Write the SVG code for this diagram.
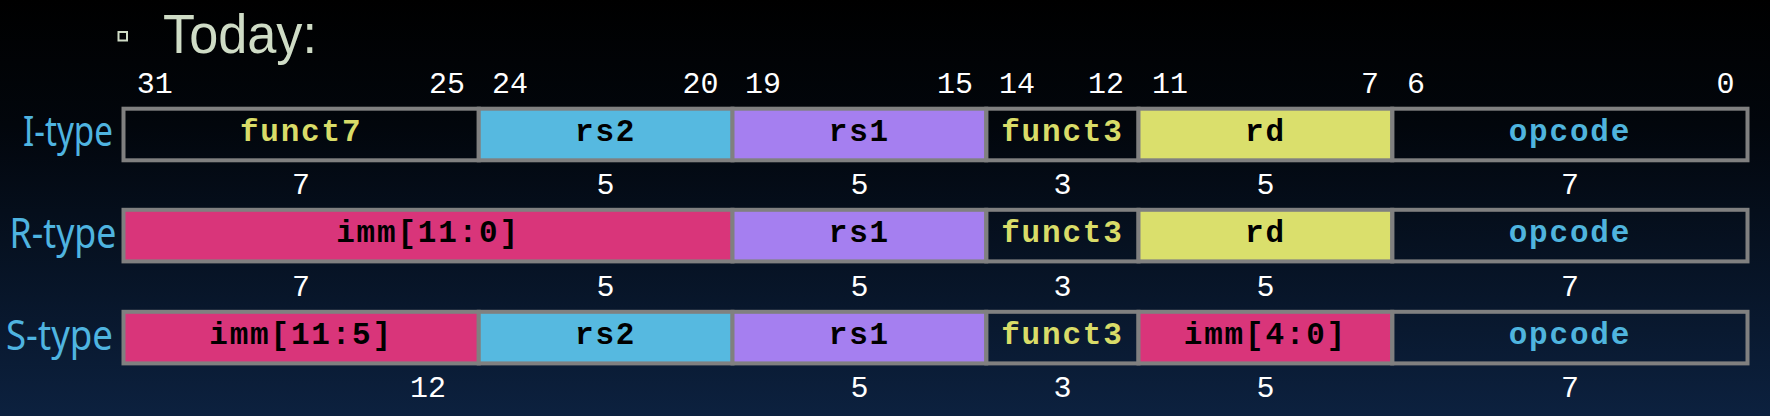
<svg xmlns="http://www.w3.org/2000/svg" width="1770" height="416" viewBox="0 0 1770 416">
<defs>
<linearGradient id="bg" x1="0" y1="0" x2="0" y2="1">
<stop offset="0" stop-color="#000000"/>
<stop offset="0.3" stop-color="#02060c"/>
<stop offset="1" stop-color="#0c213f"/>
</linearGradient>
<style>
.f{stroke:#808080;stroke-width:4}
.dk{fill:none}
.mg{fill:#d9357a}
.bl{fill:#56b9e0}
.pu{fill:#a57ff0}
.ye{fill:#dadf6c}
.lb{font-family:"Courier New","Nimbus Mono PS","FreeMono","Liberation Mono",monospace;font-weight:bold;font-size:31px;letter-spacing:1.8px;text-anchor:middle}
.tk{fill:#000}
.ty{fill:#d9dc68}
.tb{fill:#4fb4de}
.num{font-family:"Liberation Mono","DejaVu Sans Mono",monospace;font-size:30px;fill:#ffffff}
.c{text-anchor:middle}
.e{text-anchor:end}
.rl{font-family:"Noto Sans","DejaVu Sans",sans-serif;font-size:41px;fill:#4fb4e0}
</style>
</defs>
<rect width="1770" height="416" fill="url(#bg)"/>
<g id="title">
<rect x="118.5" y="32" width="8.5" height="8.5" fill="none" stroke="#cfdcc6" stroke-width="2"/>
<text x="163" y="52.7" font-family="Liberation Sans, Arial, sans-serif" font-size="55" fill="#cfdcc6" textLength="154" lengthAdjust="spacingAndGlyphs">Today:</text>
</g>
<g id="bit-positions" class="num">
<text x="136.7" y="92.5">31</text>
<text x="465" y="92.5" class="e">25</text>
<text x="492" y="92.5">24</text>
<text x="718.6" y="92.5" class="e">20</text>
<text x="745" y="92.5">19</text>
<text x="973" y="92.5" class="e">15</text>
<text x="999" y="92.5">14</text>
<text x="1124" y="92.5" class="e">12</text>
<text x="1152" y="92.5">11</text>
<text x="1379" y="92.5" class="e">7</text>
<text x="1407" y="92.5">6</text>
<text x="1734.6" y="92.5" class="e">0</text>
</g>
<g id="row-labels" class="rl">
<text x="23" y="146" textLength="90" lengthAdjust="spacingAndGlyphs">I-type</text>
<text x="9.5" y="248" textLength="107" lengthAdjust="spacingAndGlyphs">R-type</text>
<text x="6" y="350" textLength="107" lengthAdjust="spacingAndGlyphs">S-type</text>
</g>
<g id="i-type">
<g id="i-funct7"><rect class="f dk" x="123.5" y="108.7" width="355.25" height="51.6"/><text class="lb ty" x="301.1" y="140.7">funct7</text></g>
<g id="i-rs2"><rect class="f bl" x="478.75" y="108.7" width="253.75" height="51.6"/><text class="lb tk" x="605.6" y="140.7">rs2</text></g>
<g id="i-rs1"><rect class="f pu" x="732.5" y="108.7" width="253.75" height="51.6"/><text class="lb tk" x="859.4" y="140.7">rs1</text></g>
<g id="i-funct3"><rect class="f dk" x="986.25" y="108.7" width="152.25" height="51.6"/><text class="lb ty" x="1062.4" y="140.7">funct3</text></g>
<g id="i-rd"><rect class="f ye" x="1138.5" y="108.7" width="253.75" height="51.6"/><text class="lb tk" x="1265.4" y="140.7">rd</text></g>
<g id="i-opcode"><rect class="f dk" x="1392.25" y="108.7" width="355.25" height="51.6"/><text class="lb tb" x="1569.9" y="140.7">opcode</text></g>
</g>
<g id="r-type">
<g id="r-imm"><rect class="f mg" x="123.5" y="209.8" width="609" height="51.6"/><text class="lb tk" x="428" y="241.9">imm[11:0]</text></g>
<g id="r-rs1"><rect class="f pu" x="732.5" y="209.8" width="253.75" height="51.6"/><text class="lb tk" x="859.4" y="241.9">rs1</text></g>
<g id="r-funct3"><rect class="f dk" x="986.25" y="209.8" width="152.25" height="51.6"/><text class="lb ty" x="1062.4" y="241.9">funct3</text></g>
<g id="r-rd"><rect class="f ye" x="1138.5" y="209.8" width="253.75" height="51.6"/><text class="lb tk" x="1265.4" y="241.9">rd</text></g>
<g id="r-opcode"><rect class="f dk" x="1392.25" y="209.8" width="355.25" height="51.6"/><text class="lb tb" x="1569.9" y="241.9">opcode</text></g>
</g>
<g id="s-type">
<g id="s-imm-hi"><rect class="f mg" x="123.5" y="311.8" width="355.25" height="51.6"/><text class="lb tk" x="301.1" y="343.9">imm[11:5]</text></g>
<g id="s-rs2"><rect class="f bl" x="478.75" y="311.8" width="253.75" height="51.6"/><text class="lb tk" x="605.6" y="343.9">rs2</text></g>
<g id="s-rs1"><rect class="f pu" x="732.5" y="311.8" width="253.75" height="51.6"/><text class="lb tk" x="859.4" y="343.9">rs1</text></g>
<g id="s-funct3"><rect class="f dk" x="986.25" y="311.8" width="152.25" height="51.6"/><text class="lb ty" x="1062.4" y="343.9">funct3</text></g>
<g id="s-imm-lo"><rect class="f mg" x="1138.5" y="311.8" width="253.75" height="51.6"/><text class="lb tk" x="1265.4" y="343.9">imm[4:0]</text></g>
<g id="s-opcode"><rect class="f dk" x="1392.25" y="311.8" width="355.25" height="51.6"/><text class="lb tb" x="1569.9" y="343.9">opcode</text></g>
</g>
<g id="field-widths" class="num c">
<text x="301.1" y="194">7</text><text x="605.6" y="194">5</text><text x="859.4" y="194">5</text><text x="1062.4" y="194">3</text><text x="1265.4" y="194">5</text><text x="1569.9" y="194">7</text>
<text x="301.1" y="295.5">7</text><text x="605.6" y="295.5">5</text><text x="859.4" y="295.5">5</text><text x="1062.4" y="295.5">3</text><text x="1265.4" y="295.5">5</text><text x="1569.9" y="295.5">7</text>
<text x="428" y="396.7">12</text><text x="859.4" y="396.7">5</text><text x="1062.4" y="396.7">3</text><text x="1265.4" y="396.7">5</text><text x="1569.9" y="396.7">7</text>
</g>
<g id="connectors"/>
</svg>
